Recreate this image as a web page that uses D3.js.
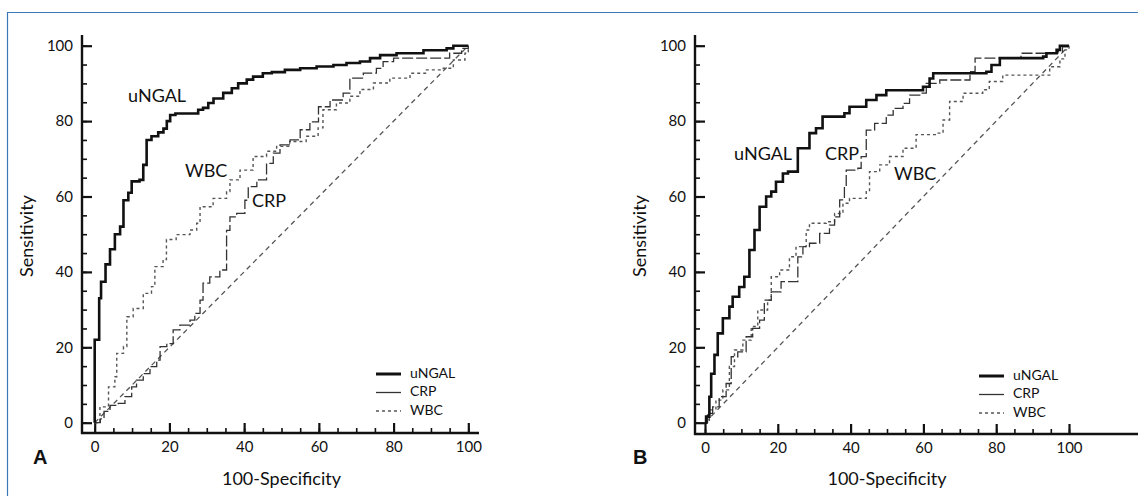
<!DOCTYPE html>
<html>
<head>
<meta charset="utf-8">
<script src="https://cdn.jsdelivr.net/npm/d3@7"></script>
<style>
  body { margin: 0; background: #fff; }
  svg { display: block; font-family: Lato, "Open Sans", sans-serif; }
</style>
</head>
<body>
<svg id="chart" width="1138" height="496"></svg>
<script>
// tick values (percent)
const majorTicks = [0, 20, 40, 60, 80, 100];
const minorTicks = d3.range(0, 101, 5);
const seriesNames = ["uNGAL", "CRP", "WBC"];

// panel A as [100-specificity, sensitivity]
const aUngal = [[0,0],[0,22],[1.2,33],[1.7,37.4],[2.9,42],[4.1,46],[5.4,50],[6.8,52],[7.7,59],[9,61],[9.9,64],[12,64.4],[13,68.4],[13.9,75],[15.2,76],[17,77],[18.4,78],[19.3,80],[20.2,81.6],[21.6,82],[26.5,82],[27.7,83],[29,83.5],[30.4,84.8],[31.8,86],[34.4,87.5],[36.7,88.7],[38.4,90],[40.7,91],[42.4,91.8],[45,92.7],[47.4,93],[50.9,93.6],[55,94],[59.4,94.5],[63.9,94.9],[67.4,95.4],[71,95.8],[73.7,96.7],[76.4,97.5],[80.8,98],[88,98.8],[94.2,99.3],[96,100],[100,100]];
const aCrp = [[0,0],[1.5,1],[2.5,3],[4.1,4.6],[6.3,5.1],[8.1,6.9],[9.9,9.5],[11.2,11.3],[13,13],[14.8,14.9],[16.6,16.6],[17.5,20.2],[19.3,21],[21,24.6],[22.8,25.9],[25.5,27.2],[26.8,29],[28.2,32.5],[29,37],[30.8,38.7],[33.5,40.5],[35.3,51],[36.2,54.6],[38,55.5],[40.2,59],[41.1,62.6],[43.4,64.4],[46,68.8],[47.8,71.5],[49.6,73.7],[52.3,75],[55,77.7],[57.6,79.8],[59.9,83.8],[63,85.6],[66.5,87.4],[68.3,91.4],[71.9,92.7],[75.4,94],[77.2,95.8],[80,96.7],[92.4,96.7],[95,98],[98.2,99.3],[100,100]];
const aWbc = [[0,0],[1.4,4.2],[3.7,9.5],[5.4,12.2],[5.9,18.4],[7.7,20.2],[8.6,28.1],[10.3,30.3],[13,34.3],[15.2,36.1],[16.1,41.4],[18.3,43.3],[19.2,48.6],[21.8,49.9],[25.5,51.1],[27.3,52.9],[28.2,57.3],[31.7,59.5],[35.3,61.3],[36.2,64.4],[38.9,67],[42.4,70.6],[46,72],[48.7,73.3],[52.2,74.6],[56.6,76],[59.8,78.2],[61.1,83],[64.7,84.8],[68.3,86.6],[71,88.4],[74.6,90.1],[79,91.4],[84.4,92.7],[88.8,93.6],[93.3,94],[96,96.2],[99.1,98],[100,100]];

// panel B
const bUngal = [[0,0],[0.3,1.6],[1.2,6.9],[1.7,13],[2.6,18],[3.5,23.7],[4.9,27.7],[6.7,30.8],[7.6,33.4],[9.4,36],[10.8,38.7],[12.2,45.8],[13.6,51.1],[15,57.3],[16.8,60],[18.2,61.3],[19.5,63.9],[21.4,66.1],[22.8,66.6],[25.5,72.8],[28.7,76.8],[30.5,78.1],[32.3,81.2],[38.3,82.1],[39.7,83.8],[44.3,85.6],[47.1,86.9],[49.8,88.2],[59.9,89.1],[61.7,91.3],[62.7,92.7],[77.3,93.1],[78.7,94.9],[81,96.7],[92.9,97.1],[93.8,98],[96.6,98.9],[97.5,100],[100,100]];
const bCrp = [[0,0],[0.7,2.5],[2.1,4.2],[3.9,6.9],[5.8,10.4],[7.2,17.5],[9,18.8],[11.3,22.8],[13.1,25],[15,27.2],[16.3,32.5],[18.2,34.7],[20.9,37.4],[25.5,44],[26.9,46.7],[28.7,47.6],[31.5,50.2],[34.2,52.4],[35.6,54.6],[37,59.1],[38.3,62.6],[38.8,67],[42,67.5],[42.9,70.6],[44.3,77.6],[46.6,79.4],[49.8,81.6],[51.7,83.4],[54.4,84.7],[56.2,86.9],[59,87.4],[60.8,90],[64.5,90.9],[72.8,93.1],[74.2,96.7],[86.8,98],[96.9,98.4],[98.2,99.7],[100,100]];
const bWbc = [[0,0],[1.2,3.4],[3,6],[4.9,8.7],[6.7,14.9],[8.1,19.3],[10.4,21.9],[12.7,25.5],[14.5,29.9],[17.2,32.5],[18.2,38.7],[20.5,40.5],[23.2,44],[25,46.7],[27.8,51.1],[28.7,52.9],[33.3,53.3],[35.6,55.5],[37.9,58.2],[39.7,59.5],[44.3,61.3],[45.2,66.6],[48,68.4],[50.7,70.6],[54.4,72.8],[58,76.4],[63.6,76.8],[65.4,80.3],[67.2,85.2],[70.9,87.4],[76.3,88.3],[78.1,90.5],[81.8,92.2],[91.9,92.2],[94.7,94.4],[97.5,96.5],[98.9,98.9],[100,100]];

const diagonal = [[0,0],[100,100]];

const styles = {
  uNGAL: { stroke: "#111", width: 2.6, dash: null, legendDash: null },
  CRP:   { stroke: "#333", width: 1.3, dash: "11,3", legendDash: null },
  WBC:   { stroke: "#555", width: 1.4, dash: "3,3", legendDash: "3,3" }
};

const svg = d3.select("#chart");

// blue frame round the figure
svg.append("path")
  .attr("d", "M7.5,496 V12.5 H1138")
  .attr("fill", "none")
  .attr("stroke", "#3a78b8")
  .attr("stroke-width", 1.2);

function drawPanel(p) {
  const x = d3.scaleLinear().domain([0, 100]).range([p.x0, p.x1]);
  const y = d3.scaleLinear().domain([0, 100]).range([422.7, 45.7]);
  const g = svg.append("g");

  // axes (inward ticks, minor every 5)
  const yMinor = g.append("g").attr("transform", `translate(${p.axisX},0)`)
    .call(d3.axisLeft(y).tickValues(minorTicks).tickSize(-5).tickFormat(""));
  const yMajor = g.append("g").attr("transform", `translate(${p.axisX},0)`)
    .call(d3.axisLeft(y).tickValues(majorTicks).tickSize(-10).tickPadding(9));
  const xMinor = g.append("g").attr("transform", `translate(0,${p.axisY})`)
    .call(d3.axisBottom(x).tickValues(minorTicks).tickSize(-5).tickFormat(""));
  const xMajor = g.append("g").attr("transform", `translate(0,${p.axisY})`)
    .call(d3.axisBottom(x).tickValues(majorTicks).tickSize(-10).tickPadding(8));
  [yMinor, yMajor, xMinor, xMajor].forEach(a => {
    a.select(".domain").remove();
    a.selectAll("line").attr("stroke", "#111").attr("stroke-width", 1.6);
    a.selectAll("text").attr("font-size", 15).attr("fill", "#111").attr("font-family", "Lato, sans-serif");
  });
  yMajor.selectAll("line").attr("stroke-width", 2.2);
  xMajor.selectAll("line").attr("stroke-width", 2.2);

  g.append("line").attr("x1", p.axisX).attr("x2", p.axisX).attr("y1", 35).attr("y2", p.axisY + 1)
    .attr("stroke", "#111").attr("stroke-width", 2.4);
  g.append("line").attr("x1", p.axisX - 1).attr("x2", p.xEnd).attr("y1", p.axisY).attr("y2", p.axisY)
    .attr("stroke", "#111").attr("stroke-width", 2.4);

  // chance line
  g.append("path").datum(diagonal)
    .attr("d", d3.line().x(d => x(d[0])).y(d => y(d[1])))
    .attr("fill", "none").attr("stroke", "#555").attr("stroke-width", 1.3)
    .attr("stroke-dasharray", "5,4");

  const line = d3.line().x(d => x(d[0])).y(d => y(d[1])).curve(d3.curveStepAfter);
  // draw thin ones first so uNGAL sits on top
  ["WBC", "CRP", "uNGAL"].forEach(name => {
    const s = styles[name];
    g.append("path").datum(p.series[name])
      .attr("d", line)
      .attr("fill", "none")
      .attr("stroke", s.stroke)
      .attr("stroke-width", s.width)
      .attr("stroke-dasharray", s.dash);
  });

  // curve labels
  p.labels.forEach(l => {
    g.append("text").attr("x", l.x).attr("y", l.y).text(l.t)
      .attr("font-size", 18).attr("fill", "#111").attr("dominant-baseline", "middle");
  });

  // legend
  seriesNames.forEach((name, i) => {
    const s = styles[name];
    const ly = p.legY + i * 18.5;
    g.append("line").attr("x1", p.legX).attr("x2", p.legX + 25).attr("y1", ly).attr("y2", ly)
      .attr("stroke", s.stroke).attr("stroke-width", name === "uNGAL" ? 3 : 1.3)
      .attr("stroke-dasharray", s.legendDash);
    g.append("text").attr("x", p.legX + 34).attr("y", ly).text(name)
      .attr("font-size", 14).attr("fill", "#111").attr("dominant-baseline", "middle");
  });

  // axis titles and panel letter
  g.append("text")
    .attr("transform", `translate(${p.axisX - 54},236) rotate(-90)`)
    .attr("text-anchor", "middle").attr("dominant-baseline", "middle")
    .attr("font-size", 18).attr("fill", "#111").text("Sensitivity");
  g.append("text").attr("x", (p.x0 + p.x1) / 2).attr("y", 480)
    .attr("text-anchor", "middle").attr("dominant-baseline", "middle")
    .attr("font-size", 18).attr("fill", "#111").text("100-Specificity");
  g.append("text").attr("x", p.letterX).attr("y", 459)
    .attr("dominant-baseline", "middle")
    .attr("font-family", "'Liberation Sans', Arial, sans-serif")
    .attr("font-weight", "bold").attr("font-size", 20).attr("fill", "#111").text(p.letter);
}

drawPanel({
  letter: "A", letterX: 33,
  x0: 94.7, x1: 468.3, axisX: 82, axisY: 433, xEnd: 479,
  series: { uNGAL: aUngal, CRP: aCrp, WBC: aWbc },
  labels: [{ t: "uNGAL", x: 128, y: 97 }, { t: "WBC", x: 185, y: 172 }, { t: "CRP", x: 252, y: 202 }],
  legX: 376, legY: 374
});

drawPanel({
  letter: "B", letterX: 633,
  x0: 705, x1: 1069, axisX: 695, axisY: 434, xEnd: 1138,
  series: { uNGAL: bUngal, CRP: bCrp, WBC: bWbc },
  labels: [{ t: "uNGAL", x: 734, y: 155 }, { t: "CRP", x: 825, y: 155 }, { t: "WBC", x: 894, y: 175 }],
  legX: 979, legY: 376
});
</script>
</body>
</html>
